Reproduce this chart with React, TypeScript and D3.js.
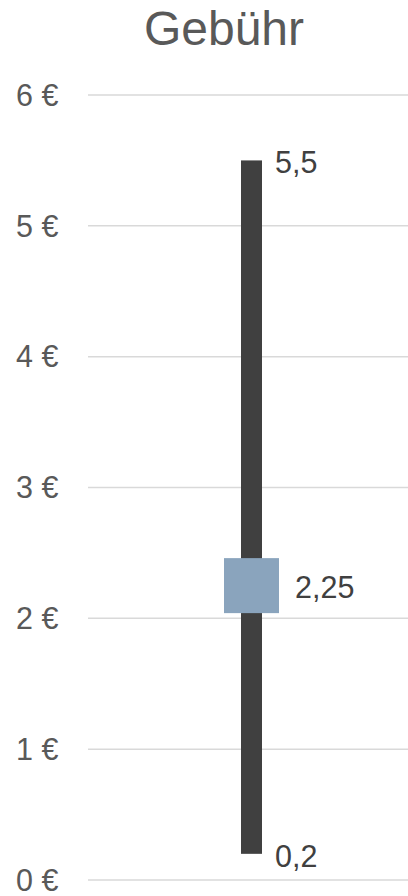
import React from "react";
import * as d3 from "d3";

const categories = ["Gebühr"];
const minValues = [0.2];
const maxValues = [5.5];
const midValues = [2.25];
const tickValues = [0, 1, 2, 3, 4, 5, 6];
const title = "Gebühr";

const W = 408;
const H = 896;
const FONT = "'Liberation Sans', Arial, sans-serif";
const fmt = (v: number) => String(v).replace(".", ",");

export default function App() {
  const y = d3.scaleLinear().domain([0, 6]).range([880, 95]);
  const x = d3.scalePoint<string>().domain(categories).range([88, 415]).padding(0.5);
  const barW = 21;
  const sq = 55;
  return (
    <svg
      width={W}
      height={H}
      style={{ position: "absolute", left: 0, top: 0, background: "#fff" }}
      fontFamily={FONT}
    >
      <text x={224} y={45} textAnchor="middle" fontSize={48} fill="#595959">
        {title}
      </text>
      {tickValues.map((t) => (
        <g key={t}>
          <line x1={88} x2={408} y1={y(t)} y2={y(t)} stroke="#d9d9d9" strokeWidth={1.5} />
          <text x={58.5} y={y(t)} dy="0.35em" textAnchor="end" fontSize={30.5} fill="#595959">
            {`${t} €`}
          </text>
        </g>
      ))}
      {categories.map((c, i) => {
        const cx = x(c) as number;
        return (
          <g key={c}>
            <rect
              x={cx - barW / 2}
              y={y(maxValues[i])}
              width={barW}
              height={y(minValues[i]) - y(maxValues[i])}
              fill="#404040"
            />
            <rect
              x={cx - sq / 2}
              y={y(midValues[i]) - sq / 2}
              width={sq}
              height={sq}
              fill="#8aa4bd"
            />
            <text x={cx + 23.5} y={y(maxValues[i]) + 12.5} fontSize={30.5} fill="#404040">
              {fmt(maxValues[i])}
            </text>
            <text x={cx + 23.5} y={y(minValues[i]) + 13} fontSize={30.5} fill="#404040">
              {fmt(minValues[i])}
            </text>
            <text x={cx + 43.5} y={y(midValues[i]) + 12.5} fontSize={30.5} fill="#404040">
              {fmt(midValues[i])}
            </text>
          </g>
        );
      })}
    </svg>
  );
}
